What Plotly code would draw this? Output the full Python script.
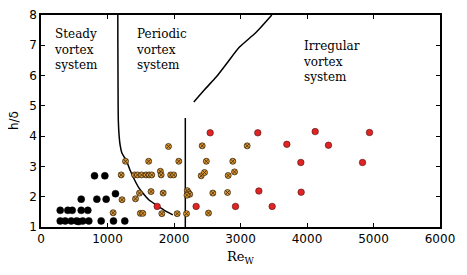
import plotly.graph_objects as go

# Steady (black)
steady_x = [289, 364, 454, 534, 564, 628, 719, 905, 1090, 1260,
            289, 403, 469, 605, 704,
            605, 840, 980, 1120,
            805, 960]
steady_y = [1.2, 1.2, 1.2, 1.2, 1.18, 1.2, 1.2, 1.2, 1.2, 1.2,
            1.55, 1.55, 1.55, 1.55, 1.55,
            1.92, 1.92, 1.92, 2.1,
            2.69, 2.69]

# Periodic (orange)
periodic_x = [1917, 1271, 1619, 2072,
              1206, 1406, 1450, 1512, 1580, 1625, 1665, 1795, 1807, 1950, 1995,
              1481, 1655, 1837, 1218, 1421,
              1085, 1494, 1531, 1817, 2048, 2188,
              2200, 2218, 2236, 2195,
              2424, 3100, 2486, 2884, 2409, 2459, 2815, 2910, 2584, 2805, 2519]
periodic_y = [3.66, 3.17, 3.17, 3.17,
              2.72, 2.72, 2.72, 2.72, 2.72, 2.72, 2.72, 2.84, 2.72, 2.72, 2.72,
              2.12, 2.17, 2.12, 1.9, 1.93,
              1.47, 1.45, 1.45, 1.44, 1.44, 1.44,
              2.2, 2.13, 2.08, 2.05,
              3.68, 3.68, 3.17, 3.17, 2.69, 2.8, 2.7, 2.82, 2.12, 2.14, 1.46]

# Irregular (red)
irregular_x = [2544, 3260, 4123, 4940, 3697, 4323, 3907, 4835,
               3276, 3912, 1747, 2333, 2925, 3476]
irregular_y = [4.11, 4.11, 4.15, 4.12, 3.73, 3.7, 3.13, 3.13,
               2.19, 2.15, 1.68, 1.68, 1.68, 1.68]

# Boundary lines
curve_x = [1155, 1156, 1158, 1160, 1163, 1175, 1190, 1215, 1245, 1281, 1335, 1406, 1470, 1531, 1620, 1732, 1850, 1982]
curve_y = [8.0, 7.0, 6.0, 5.0, 4.5, 4.0, 3.7, 3.45, 3.33, 3.21, 2.9, 2.56, 2.3, 2.12, 1.9, 1.73, 1.56, 1.40]
vert_x = [2170, 2170]
vert_y = [1.0, 4.6]
diag_x = [2298, 2465, 2634, 2810, 2985, 3236, 3471]
diag_y = [5.13, 5.55, 5.95, 6.45, 6.94, 7.43, 8.0]

labels = ["Steady<br>vortex<br>system", "Periodic<br>vortex<br>system", "Irregular<br>vortex<br>system"]
label_x = [188, 1432, 3947]
label_y = [7.6, 7.6, 7.2]

fig = go.Figure()
line_style = dict(color="black", width=1.5)
fig.add_trace(go.Scatter(x=curve_x, y=curve_y, mode="lines", line=dict(line_style, shape="spline", smoothing=0.6), showlegend=False))
fig.add_trace(go.Scatter(x=vert_x, y=vert_y, mode="lines", line=line_style, showlegend=False))
fig.add_trace(go.Scatter(x=diag_x, y=diag_y, mode="lines", line=dict(line_style, shape="spline", smoothing=0.6), showlegend=False))

fig.add_trace(go.Scatter(x=steady_x, y=steady_y, mode="markers",
                         marker=dict(color="black", size=7, line=dict(color="black", width=0.5)),
                         showlegend=False))
fig.add_trace(go.Scatter(x=periodic_x, y=periodic_y, mode="markers",
                         marker=dict(symbol="circle-x", color="#dd9530", size=6,
                                     line=dict(color="#3a2a10", width=0.8)),
                         showlegend=False))
fig.add_trace(go.Scatter(x=irregular_x, y=irregular_y, mode="markers",
                         marker=dict(color="#e02424", size=6.5, line=dict(color="#4a1010", width=0.6)),
                         showlegend=False))

for t, lx, ly in zip(labels, label_x, label_y):
    fig.add_annotation(x=lx, y=ly, text=t, showarrow=False, xanchor="left", yanchor="top",
                       align="left", borderpad=0, borderwidth=0,
                       font=dict(family="DejaVu Serif", size=12, color="black"))

# Axis titles
fig.add_annotation(xref="paper", yref="paper", x=0.5, y=-0.095, yanchor="top", xanchor="center",
                   text="Re<sub>W</sub>", showarrow=False,
                   font=dict(family="DejaVu Serif", size=13, color="black"))
fig.add_annotation(xref="paper", yref="paper", x=-0.045, y=0.5, xanchor="right", yanchor="middle",
                   text="h/δ", showarrow=False, textangle=-90,
                   font=dict(family="DejaVu Sans", size=12, color="black"))

axis_common = dict(showline=True, linecolor="black", linewidth=1.5, mirror="ticks",
                   ticks="inside", ticklen=4, tickcolor="black", tickwidth=1,
                   showgrid=False, zeroline=False, automargin=False,
                   tickfont=dict(family="DejaVu Sans", size=12, color="black"))

fig.update_xaxes(range=[0, 6000], tickvals=[0, 1000, 2000, 3000, 4000, 5000, 6000], **axis_common)
fig.update_yaxes(range=[1, 8], tickvals=[1, 2, 3, 4, 5, 6, 7, 8], **axis_common)

# page body has an 8px default margin, so the figure is sized to fit the window
fig.update_layout(width=459, height=267, margin=dict(l=33, r=27, t=7, b=48),
                  plot_bgcolor="white", paper_bgcolor="white")

fig.write_html("out.html")
